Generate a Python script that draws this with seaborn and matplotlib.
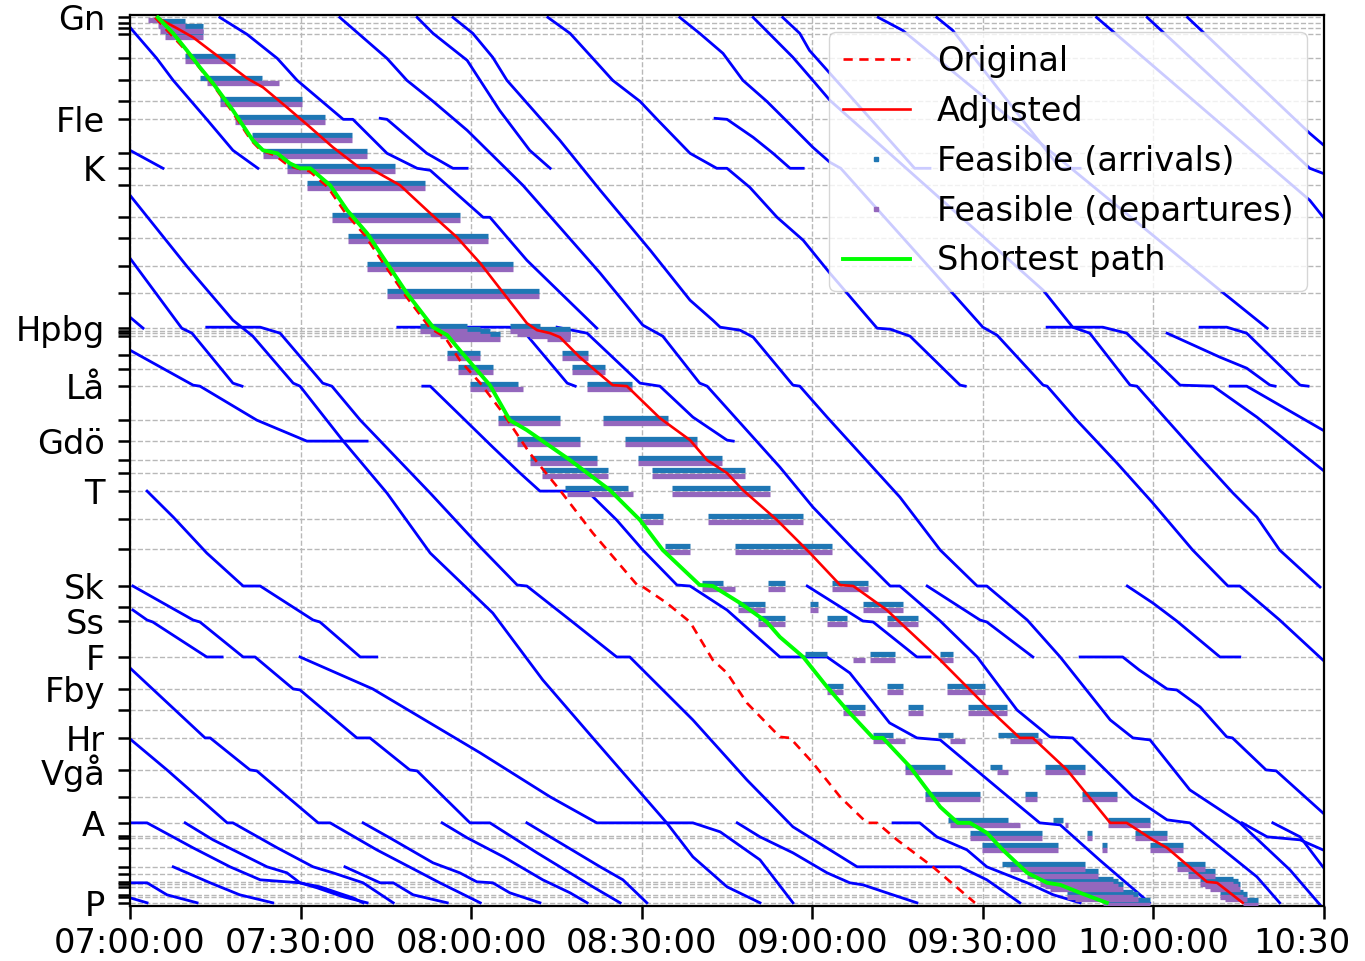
import numpy as np
import pandas as pd
import seaborn as sns
import matplotlib
matplotlib.use("Agg")
from matplotlib import pyplot as plt
from matplotlib.lines import Line2D
from matplotlib.ticker import FuncFormatter
from matplotlib.transforms import ScaledTranslation

# stations, km from Gn
station_km = [0, 1.5, 2.75, 4.25, 10.25, 15.75, 21, 25.5, 34, 37.75, 42, 50, 55.25, 62.25, 69,
              77.75, 78.5, 79, 79.75, 84.5, 88, 92.25, 100.75, 106, 110.75, 114, 118.5, 125.5,
              133, 142.25, 147.5, 151, 160, 168, 173.25, 180.25, 188.25, 195, 201.5, 204.75,
              205.25, 207.75, 212.5, 214.25, 216.25, 216.75, 217.5, 219.5, 220, 221.5]
station_lbl = {0: 'Gn', 25.5: 'Fle', 37.75: 'K', 77.75: 'Hpbg', 92.25: 'Lå', 106: 'Gdö',
               118.5: 'T', 142.25: 'Sk', 151: 'Ss', 160: 'F', 168: 'Fby', 180.25: 'Hr',
               188.25: 'Vgå', 201.5: 'A', 221.5: 'P'}

# other trains: (minutes after 07:00, km)
t_b1 = [(0, 2.5), (4.7, 10.25), (7.6, 15.75), (13.5, 25.5), (18.1, 33.25), (22.5, 37.75)]
t_b2 = [(0, 33.25), (5.8, 37.75)]
t_b3 = [(0, 44.5), (10, 62.25), (18.1, 75.75), (21.6, 79.75), (28.7, 91.5), (29.9, 92.25), (37.5, 106),
        (45.2, 119), (52.8, 134), (63.8, 149), (72.6, 165.75), (81.4, 180.25), (94.4, 201.5), (99, 210),
        (105, 217.5), (110.8, 221.5)]
t_b4 = [(0, 75), (2.3, 77.75)]
t_b5 = [(0, 60.25), (9.1, 77.75), (10.9, 79), (18.1, 91.5), (19.7, 92.25)]
t_t2 = [(15.8, 0), (20.6, 4.25), (25.9, 10.25), (29.4, 15.75), (37.5, 25.5), (39.2, 25.5), (45.2, 34),
        (50.5, 37.75), (52.8, 38.25), (62.1, 50), (63.3, 50), (69.8, 60.75), (82.1, 77.75)]
t_t3 = [(36.9, 0), (45.2, 10.25), (48.7, 15.75), (53.3, 21), (59.3, 28.25), (69.1, 42), (75.6, 52.5),
        (82.7, 64), (90.2, 77), (93.7, 79.75), (100.2, 91.5), (101.5, 92.25), (114.3, 112.5),
        (120.1, 122.5), (127.2, 133), (133.7, 142.25), (135.4, 142.25), (142.5, 151), (149, 160),
        (156, 173.25), (161.8, 180), (165.8, 180.25), (176.4, 195), (182.4, 200.75), (186.4, 201.5),
        (198.2, 215), (202.2, 221.5)]
t_417 = [(50.5, 0), (53.3, 4), (59.3, 10.75), (65, 23.25), (70.3, 33.25), (73.9, 37.75)]
t_453 = [(56.8, 0), (60.3, 4), (63.8, 10), (66.3, 15.75), (75.6, 30.75), (82.7, 43.25), (91.5, 58.25),
         (98.5, 70.75), (102.5, 75.75), (103.8, 77.5), (107.3, 78.25), (109.6, 80), (116.6, 92),
         (117.8, 92.25), (122.6, 100), (135.4, 120), (142.5, 133.25), (149, 142.25), (150.7, 142.25),
         (157.8, 150.75), (163.6, 160), (172.4, 175.75), (176.4, 180.25), (179.4, 180.75),
         (186.4, 193.25), (195.2, 201.5), (204, 213.25), (209.3, 222)]
t_548 = [(73.5, 0), (77.4, 4), (81.4, 10.25), (84.9, 15.75), (89.7, 21), (92.7, 25.5), (98.5, 34),
         (103.2, 37.75), (105, 37.75), (109, 42.5), (113.8, 50), (118.4, 55.75), (123.1, 64),
         (131.4, 77.75), (133.7, 78), (137.2, 79.75), (146, 92), (146.9, 92.25)]
t_680 = [(96.7, 0), (100.2, 4), (104.3, 9), (107.8, 15.75), (112, 21), (116.6, 27.5), (120.1, 32.5),
         (123.1, 36.25), (125, 37.75), (144.2, 68.25), (150, 77.5), (152.5, 79.5), (160.6, 92),
         (161.3, 92.25), (166.5, 100.75), (173.6, 111.5), (179.9, 121.5), (186.9, 133.25),
         (193.1, 142.25), (195.2, 142.25), (202.2, 150.75), (209.8, 160.75)]
t_753 = [(109.6, 0), (113.1, 5), (116.6, 10), (120.1, 15.75), (123.1, 20.75), (160.6, 68.25),
         (165.8, 77.5), (168.8, 79), (175.9, 92), (177.1, 92.25), (182.4, 100.75), (188.2, 110),
         (194, 119), (198.2, 125), (202.2, 133.25), (209.3, 142.5)]
t_783 = [(114.8, 0), (117.8, 4), (119.5, 8.25), (123.1, 14), (138, 37.75), (140.7, 37.75)]
t_878 = [(131.6, 0), (135.9, 3.25), (191.7, 68.25), (200, 77.75)]
t_937 = [(141.9, 0), (144.7, 3.25), (163.6, 37.75), (167.1, 37.75)]
t_1097 = [(170, 0), (207.5, 45.75), (211, 52)]
t_1147 = [(178.9, 0), (207.5, 37.75), (209.8, 39)]
t_1188 = [(186, 0), (207.5, 29), (211, 33.25)]
t_fle1 = [(44, 25.25), (45.2, 25.5), (52.2, 34), (56.8, 37.75), (59.3, 37.75)]
t_fle2 = [(102.9, 25.25), (105, 25.5), (109.6, 30), (113.1, 34), (116.1, 37.75), (118.4, 37.75)]
t_h207 = [(13.5, 77.5), (22.9, 77.5), (26.4, 79), (33.9, 91.5), (35.5, 92.25), (40.5, 100.75),
          (52.8, 119), (61.6, 132.5), (68.1, 142), (69.8, 142.25), (77.4, 150.75), (85.6, 160),
          (87.9, 160), (99, 175.75), (108.5, 190.75), (116.6, 202.5), (127.9, 212.5), (146, 212.5),
          (150.7, 215.75), (156.5, 221.5)]
t_gdo = [(0, 83.25), (11.1, 92), (12.3, 92.25), (22.3, 100.75), (31.1, 106), (41.7, 106)]
t_la423 = [(51.5, 92.25), (52.8, 92.25), (63.8, 107.5), (68.6, 114), (72.1, 118.5), (80.4, 118.5),
           (85.6, 125.75), (90.2, 133.25), (96.2, 142), (98.5, 142.25), (105, 148.25), (114.3, 160),
           (122.6, 160), (126.6, 164), (133.6, 176.5), (138.4, 180.25), (142.5, 180.75), (153, 193.25),
           (160, 201.5), (163.6, 202), (170.5, 210.75), (179.3, 221.5)]
t_hp398 = [(47.1, 77.5), (66.8, 77.5), (69.8, 79.5), (76.9, 91.5), (78.3, 92.25)]
t_hp557 = [(75.1, 77.5), (80.4, 79), (89.7, 91.5), (93.2, 92.25), (99, 100), (105, 105.75), (106.1, 106)]
t_hp1047 = [(161.3, 77.5), (171.1, 77.5), (175.3, 79), (184.7, 92), (190.5, 92.25), (198.2, 100),
            (209.8, 113.25)]
t_hp_slow = [(182.4, 79), (191.7, 85), (196.4, 87.75), (200.5, 92), (201.4, 92.25)]
t_hp1200 = [(188.2, 77.5), (192.9, 77.5), (196.4, 79), (205.8, 92), (207.2, 92.25)]
t_la1230 = [(193.5, 92.25), (196.4, 92.25), (209.8, 103.25)]
t_s3 = [(3, 118.5), (7.6, 125), (13.5, 134), (19.9, 142.25), (22.9, 142.25), (32.2, 150.75),
        (33.4, 151.25), (40.5, 160), (43.4, 160)]
t_s1 = [(0.5, 142.25), (11.1, 150.75), (12.3, 151.25), (19.9, 160), (22, 160), (28.7, 168),
        (29.9, 168.25), (39.9, 180.25), (42.2, 180.25), (49.2, 188.25), (50.5, 188.5), (59.8, 201.5),
        (63.3, 201.5), (71.6, 209), (81.4, 217.5), (86.2, 221.5)]
t_s2 = [(0.5, 148.25), (3, 150.75), (4, 151.25), (13.5, 160), (16.2, 160)]
t_s4 = [(0, 162.75), (13.2, 180.25), (14.1, 180.25), (21.1, 188.25), (22.3, 188.5), (33.1, 201.5),
        (35.2, 201.5), (43.4, 208.25), (54.5, 216.5), (61.6, 221.5)]
t_s5 = [(0, 180.5), (6.5, 188.25), (17.1, 201.5), (18.1, 201.5), (25.9, 207.75), (32.2, 212.5),
        (35.7, 214), (41, 216.5), (46.3, 221.5)]
t_s6 = [(29.9, 160), (42.7, 168), (61.6, 184), (73.9, 195), (82.1, 201.5), (99, 201.5), (103.8, 203.75),
        (110.8, 210.75), (116.6, 221.5)]
t_a130 = [(0, 201.5), (3, 201.5), (11.1, 207.75), (17.6, 212.5), (22.9, 215.75), (29.9, 216.5),
          (32.9, 217.75), (37.5, 220), (41.7, 221.5)]
t_a185 = [(9.7, 201.5), (14.6, 205.75), (24.1, 212.5), (27.6, 214), (29.9, 216.5), (33.4, 217.5),
          (39.2, 220.25), (41, 221.5)]
t_a363 = [(41, 201.5), (45.7, 205.25), (53.3, 211.5), (58, 214), (61, 216.25), (63.8, 216.5),
          (66.8, 219), (72.1, 221.5)]
t_a442 = [(54.9, 201.5), (59.3, 205.25), (65.7, 210), (72.6, 215.75), (77.4, 219), (80.4, 221.5)]
t_a527 = [(69.8, 201.5), (73.9, 205), (82.7, 212.5), (86.7, 215.75), (90.9, 221.5)]
t_a737 = [(106.8, 201.5), (110.8, 205), (116.6, 209), (122.6, 214), (126.6, 216.5), (128.9, 217),
          (133.1, 219), (138.4, 221.5)]
t_a893 = [(134.2, 201.5), (138.9, 201.5), (141.9, 205), (147.2, 208.25), (150.7, 212.5),
          (157.8, 216.5), (162.4, 219.5), (167.1, 221.5)]
t_867 = [(7.6, 212.5), (14.1, 216.5), (19.3, 219.5), (25.1, 221.5)]
t_883 = [(0, 216.5), (3, 216.5), (6.5, 219.5), (11.8, 221.5)]
t_898 = [(0, 220.25), (3, 221.5)]
t_345 = [(37.8, 212.5), (44, 216.5), (46.3, 216.5), (49.8, 219.5), (55.8, 221.5)]
t_sk807 = [(119.1, 142.25), (128.9, 151), (130.7, 151.25), (138.4, 160), (140.7, 160)]
t_sk927 = [(140.2, 142.25), (149.5, 150.75), (150.7, 151.25), (158.8, 160)]
t_sk1120 = [(175.4, 142.25), (179.9, 146.5), (184.1, 151), (191.7, 160), (195.2, 160)]
t_f1080 = [(167.1, 160), (174.6, 160), (177.5, 163.25), (182.4, 168), (184.1, 168.25), (188.2, 172.5),
           (192.9, 180), (193.9, 180.25), (199.8, 188.25), (201.6, 188.5), (209.8, 199)]
t_a1242 = [(195.6, 201.5), (200, 205), (205.8, 205.75), (209.8, 208.25)]
t_a1273 = [(201, 201.5), (205.8, 205), (209.8, 212.5)]

other_trains = [t_b1, t_b2, t_b3, t_b4, t_b5, t_t2, t_t3, t_417, t_453, t_548, t_680, t_753, t_783,
                t_878, t_937, t_1097, t_1147, t_1188, t_fle1, t_fle2, t_h207, t_gdo, t_la423, t_hp398,
                t_hp557, t_hp1047, t_hp_slow, t_hp1200, t_la1230, t_s3, t_s1, t_s2, t_s4, t_s5, t_s6,
                t_a130, t_a185, t_a363, t_a442, t_a527, t_a737, t_a893, t_867, t_883, t_898, t_345,
                t_sk807, t_sk927, t_sk1120, t_f1080, t_a1242, t_a1273]

# the train being rescheduled
original = [(4.4, 0), (9.8, 8.25), (14.4, 16.5), (17.8, 23.25), (21.3, 30.75), (23, 33.25), (25.5, 34.5),
            (27.8, 37), (29.4, 37.75), (31.6, 38.5), (34.8, 42.5), (37.8, 48.75), (41.3, 54.5), (44.8, 62),
            (48.4, 69.5), (52.8, 77.75), (55.4, 80), (58, 85.75), (61.6, 91.5), (65.6, 99), (70.3, 109),
            (75.6, 118.25), (81.4, 129), (89.2, 142), (90, 142.25), (94.4, 146.5), (98.5, 151.25),
            (102.5, 160.75), (105, 164), (108.5, 171.5), (114.3, 180), (116.1, 180.25), (120.1, 186.5),
            (124.9, 195), (129.6, 201.5), (131.4, 201.5), (134.9, 205.75), (141.2, 212.5), (148.6, 221.5)]
adjusted = [(4.7, 0), (8.3, 2.75), (11.1, 5), (14.1, 8.25), (17.6, 12), (20.6, 15.25), (23.4, 17.5),
            (27.6, 22.5), (31.7, 27.5), (35.7, 32.5), (40.5, 37.75), (42.2, 37.75), (47.5, 42), (52.8, 49),
            (57.5, 55), (61.6, 61.5), (69.8, 76.5), (71.6, 78.25), (73.9, 79), (75.6, 80), (79.1, 85),
            (84.9, 92), (87.4, 92.25), (93.2, 100.25), (98.5, 105.75), (101.5, 110.75), (105, 114),
            (107.8, 118.25), (113.8, 125.75), (119.6, 134), (124.9, 142), (127.2, 142.25), (133.1, 148.25),
            (142.5, 160.75), (150.7, 172.5), (156.5, 180.25), (158.8, 180.25), (164.8, 188.25),
            (172.4, 201.5), (175.3, 201.5), (179.9, 205.75), (182.4, 207.75), (189.4, 216.25),
            (191.2, 216.5), (195.7, 221.5)]
shortest = [(4.9, 0), (7.6, 4), (10, 8.25), (12.3, 12.5), (14.6, 16.5), (18.1, 23.25), (21.6, 30.75),
            (23.4, 33.25), (25.9, 34), (28.1, 36.5), (29.9, 37.75), (31.7, 37.75), (35.2, 42), (38.2, 48.25),
            (41.7, 54), (45.2, 61.5), (48.7, 69), (53.3, 77.5), (55.8, 79.5), (58, 83.25), (63.3, 92),
            (66.8, 100.75), (69.8, 103.25), (77.4, 110.75), (84.4, 118.25), (89.7, 125.75), (93.7, 133.25),
            (100.2, 142), (102.5, 142.25), (107.3, 146.5), (112, 151.25), (114.3, 155), (118.4, 160),
            (122.6, 167.5), (126.1, 173.25), (130.7, 180.25), (132.4, 180.25), (137.2, 187.5),
            (142.5, 197.5), (145.6, 201.5), (147.7, 201.5), (150.7, 204), (153.5, 208.25), (157.8, 214),
            (161.3, 216.5), (163.6, 217), (167.1, 219), (171.8, 221.5)]

# feasible windows per station: (km, start, end) in minutes
feas_arr = [(1.5, 4.9, 9.7), (2.75, 5.3, 12.8), (4.25, 6.2, 12.8), (10.25, 9.7, 18.5),
            (15.75, 12.3, 23.2), (21, 15.8, 30.2), (25.5, 18.5, 34.3), (30, 21.5, 39), (34, 23.4, 41.7),
            (37.75, 27.6, 46.6), (42, 31.1, 51.9), (50, 35.5, 58), (55.25, 38.3, 63), (62.25, 41.7, 67.4),
            (69, 45.2, 71.9), (77.75, 51, 59.3), (77.75, 66.8, 72.1), (78.5, 52.8, 61.6), (78.5, 68.1, 77.4),
            (79, 54.5, 63.3), (79, 70.3, 77.4), (79.75, 56.3, 65.1), (79.75, 73.3, 77.4),
            (84.5, 55.8, 61.6), (84.5, 76, 80.5), (88, 57.7, 63.8), (88, 77.7, 83.5),
            (92.25, 59.8, 68.2), (92.25, 80.4, 88.3), (100.75, 64.7, 75.6), (100.75, 83.2, 94.6),
            (106, 68.1, 79.1), (106, 87.1, 99.7), (110.75, 70.3, 82.1), (110.75, 89.3, 104.1),
            (114, 72.5, 84.1), (114, 91.8, 108.2), (118.5, 76.5, 87.6), (118.5, 95.3, 112.6),
            (125.5, 89.7, 93.7), (125.5, 101.7, 118.4), (133, 94.1, 98.5), (133, 106.4, 123.5),
            (142.25, 100.6, 104.3), (142.25, 112.2, 115.2), (142.25, 123.5, 129.8),
            (147.5, 106.9, 111.7), (147.5, 119.6, 121), (147.5, 128.9, 135.9),
            (151, 110.4, 115.2), (151, 122.6, 126.1), (151, 133.1, 138.6),
            (160, 118.7, 122.6), (160, 130.1, 134.5), (160, 142.5, 144.7),
            (168, 122.6, 125.4), (168, 133.1, 135.9), (168, 143.7, 150.4),
            (173.25, 125.4, 129.3), (173.25, 136.8, 139.5), (173.25, 147.4, 154.2),
            (180.25, 130.7, 134.2), (180.25, 142.1, 144.7), (180.25, 152.7, 159.7),
            (188.25, 136.3, 143.3), (188.25, 151.2, 153.4), (188.25, 160.9, 168),
            (195, 139.8, 149.5), (195, 157.4, 159.5), (195, 167.4, 173.6),
            (201.5, 143.9, 154.4), (201.5, 162.3, 164.1), (201.5, 172, 179.4),
            (204.75, 147.7, 160.4), (204.75, 168.3, 169.2), (204.75, 176.7, 182.4),
            (207.75, 149.8, 163.2), (207.75, 170.9, 171.8), (207.75, 179.4, 185.2),
            (212.5, 153.4, 168), (212.5, 184.1, 189.1), (214.25, 157.8, 170.2), (214.25, 186.1, 190.8),
            (216.25, 160, 172.9), (216.25, 188.2, 194), (216.75, 160.9, 173.8), (216.75, 189.1, 194.9),
            (217.5, 161.8, 174.6), (217.5, 189.9, 195.2), (219.5, 164.8, 176.4), (219.5, 191.7, 195.7),
            (220, 166.2, 177.3), (220, 192.6, 196.4), (221.5, 171.1, 179.4), (221.5, 195.7, 198.4)]
feas_dep = [(0, 3.2, 5.3), (1.5, 4.9, 9.7), (2.75, 5.3, 12.8), (4.25, 6.2, 12.8), (10.25, 9.7, 18.5),
            (15.75, 13.5, 26.2), (21, 15.8, 30.2), (25.5, 18.5, 34.3), (30, 21.5, 39), (34, 23.4, 41.7),
            (37.75, 27.6, 46.6), (42, 31.1, 51.9), (50, 35.5, 58), (55.25, 38.3, 63), (62.25, 41.7, 67.4),
            (69, 45.2, 71.9), (77.75, 51, 59.3), (77.75, 66.8, 72.1), (78.5, 52.8, 61.6), (78.5, 68.1, 77.4),
            (79, 54.5, 63.3), (79, 70.3, 77.4), (79.75, 56.3, 65.1), (79.75, 73.3, 77.4),
            (84.5, 55.8, 61.6), (84.5, 76, 80.5), (88, 57.7, 63.8), (88, 77.7, 83.5),
            (92.25, 59.8, 69.1), (92.25, 80.4, 88.3), (100.75, 64.7, 75.6), (100.75, 83.2, 94.6),
            (106, 68.1, 79.1), (106, 87.1, 99.7), (110.75, 70.3, 82.1), (110.75, 89.3, 104.1),
            (114, 72.5, 84.1), (114, 91.8, 108.2), (118.5, 76.9, 88.5), (118.5, 95.3, 112.6),
            (125.5, 89.7, 93.7), (125.5, 101.7, 118.4), (133, 94.1, 98.5), (133, 106.4, 123.5),
            (142.25, 100.6, 106.4), (142.25, 112.2, 115.2), (142.25, 123.5, 129.8),
            (147.5, 106.9, 111.7), (147.5, 119.6, 121), (147.5, 128.9, 135.9),
            (151, 110.4, 115.2), (151, 122.6, 126.1), (151, 133.1, 138.6),
            (160, 127.2, 129.3), (160, 130.1, 134.5), (160, 142.5, 144.7),
            (168, 122.6, 125.4), (168, 133.1, 135.9), (168, 143.7, 150.4),
            (173.25, 125.4, 129.3), (173.25, 136.8, 139.5), (173.25, 147.4, 154.2),
            (180.25, 130.7, 136.3), (180.25, 144.2, 146.9), (180.25, 154.8, 160.4),
            (188.25, 136.3, 144.6), (188.25, 152.5, 154.4), (188.25, 160.9, 168),
            (195, 139.8, 149.5), (195, 157.4, 159.5), (195, 167.4, 173.6),
            (201.5, 144.2, 156.5), (201.5, 164.4, 165), (201.5, 172, 179.4),
            (204.75, 147.7, 160.4), (204.75, 168.3, 169.2), (204.75, 176.7, 182.4),
            (207.75, 149.8, 163.2), (207.75, 170.9, 171.8), (207.75, 179.4, 185.2),
            (212.5, 154.8, 168), (212.5, 184.1, 189.1), (214.25, 157.8, 170.2), (214.25, 186.1, 190.8),
            (216.25, 160, 172.9), (216.25, 188.2, 194), (216.75, 160.9, 173.8), (216.75, 189.1, 194.9),
            (217.5, 161.8, 174.6), (217.5, 189.9, 195.2), (219.5, 164.8, 176.4), (219.5, 191.7, 195.7),
            (220, 166.2, 177.3), (220, 192.6, 196.4), (221.5, 171.1, 179.4), (221.5, 195.7, 198.4)]


def to_df(points):
    return pd.DataFrame(points, columns=['minute', 'km'])


rows = []
for i, tr in enumerate(other_trains):
    d = to_df(tr)
    d['train'] = i
    rows.append(d)
others = pd.concat(rows, ignore_index=True)

fs = 24.2
plt.rcParams['font.family'] = ['DejaVu Sans']
fig = plt.figure(figsize=(13.65, 9.61), dpi=100)
ax = fig.add_axes([130 / 1365, 1 - 906 / 961, 1194 / 1365, 891 / 961])

sns.lineplot(data=others, x='minute', y='km', units='train', estimator=None, sort=False,
             color='#0000ff', lw=2.0, ax=ax, zorder=2, legend=False)

sns.lineplot(data=to_df(original), x='minute', y='km', sort=False, color='#ff0000', lw=1.9,
             ls=(0, (3.5, 2.5)), ax=ax, zorder=4)
sns.lineplot(data=to_df(adjusted), x='minute', y='km', sort=False, color='#ff0000', lw=1.9,
             ax=ax, zorder=4)

off = 0.65
fa = np.array(feas_arr)
fd = np.array(feas_dep)
ax.hlines(fa[:, 0] - off, fa[:, 1], fa[:, 2], color='#1f77b4', lw=3.8, zorder=3)
ax.hlines(fd[:, 0] + off, fd[:, 1], fd[:, 2], color='#9467bd', lw=3.8, zorder=3)

sns.lineplot(data=to_df(shortest), x='minute', y='km', sort=False, color='#00ff00', lw=2.8,
             ax=ax, zorder=5)

ax.set_xlim(0, 210)
ax.set_ylim(222.3, -0.6)
ax.set_xticks(np.arange(0, 211, 30))
ax.xaxis.set_major_formatter(FuncFormatter(
    lambda v, p: '10:30' if v >= 210 else '%02d:%02d:00' % (7 + int(v) // 60, int(v) % 60)))
ax.set_yticks(station_km)
ax.set_yticklabels([station_lbl.get(k, '') for k in station_km])
ax.tick_params(axis='both', labelsize=fs, length=9, width=1.8)
ax.tick_params(axis='y', pad=9)
ax.tick_params(axis='x', pad=6)
ax.set_xlabel('')
ax.set_ylabel('')
ax.grid(True, ls='--', lw=1.0, color='#b8b8b8')
ax.set_axisbelow(True)
for s in ax.spines.values():
    s.set_linewidth(1.6)

# last time label sits where the reference shows its visible part
fig.canvas.draw()
last = ax.get_xticklabels()[-1]
last.set_transform(last.get_transform() + ScaledTranslation(-0.22, 0, fig.dpi_scale_trans))

handles = [
    Line2D([], [], color='#ff0000', ls=(0, (3.5, 2.5)), lw=1.9),
    Line2D([], [], color='#ff0000', lw=1.9),
    Line2D([], [], color='#1f77b4', ls='', marker='s', ms=3),
    Line2D([], [], color='#9467bd', ls='', marker='s', ms=3),
    Line2D([], [], color='#00ff00', lw=2.8),
]
ax.legend(handles, ['Original', 'Adjusted', 'Feasible (arrivals)', 'Feasible (departures)',
                    'Shortest path'], loc='upper right', fontsize=fs, framealpha=0.8)

fig.savefig('out.png', dpi=100)
